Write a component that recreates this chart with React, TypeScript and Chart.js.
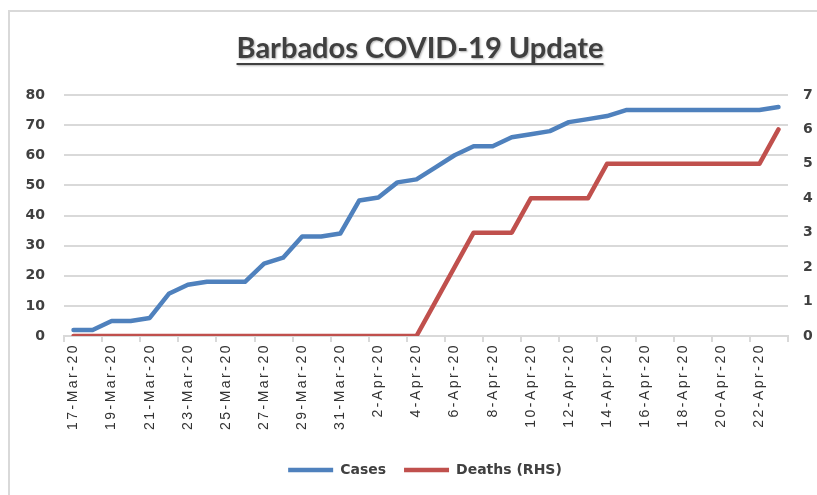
import React, { useEffect, useRef } from 'react';
import { Chart, registerables, CategoryScale } from 'chart.js';

Chart.register(...registerables);

class SpacedCategoryScale extends CategoryScale {
  static id = 'spacedCategory';
  static defaults = CategoryScale.defaults;
  drawLabels(chartArea: any) {
    const ctx = this.ctx as any;
    ctx.save();
    ctx.letterSpacing = '2.5px';
    super.drawLabels(chartArea);
    ctx.restore();
  }
}
Chart.register(SpacedCategoryScale as any);

const TITLE = 'Barbados COVID-19 Update';

const dates = [
  '17-Mar-20', '18-Mar-20', '19-Mar-20', '20-Mar-20', '21-Mar-20', '22-Mar-20', '23-Mar-20',
  '24-Mar-20', '25-Mar-20', '26-Mar-20', '27-Mar-20', '28-Mar-20', '29-Mar-20', '30-Mar-20',
  '31-Mar-20', '1-Apr-20', '2-Apr-20', '3-Apr-20', '4-Apr-20', '5-Apr-20', '6-Apr-20',
  '7-Apr-20', '8-Apr-20', '9-Apr-20', '10-Apr-20', '11-Apr-20', '12-Apr-20', '13-Apr-20',
  '14-Apr-20', '15-Apr-20', '16-Apr-20', '17-Apr-20', '18-Apr-20', '19-Apr-20', '20-Apr-20',
  '21-Apr-20', '22-Apr-20', '23-Apr-20',
];

const cases = [
  2, 2, 5, 5, 6, 14, 17, 18, 18, 18, 24, 26, 33, 33, 34, 45, 46, 51, 52,
  56, 60, 63, 63, 66, 67, 68, 71, 72, 73, 75, 75, 75, 75, 75, 75, 75, 75, 76,
];

const deaths = [
  0, 0, 0, 0, 0, 0, 0, 0, 0, 0, 0, 0, 0, 0, 0, 0, 0, 0, 0,
  1, 2, 3, 3, 3, 4, 4, 4, 4, 5, 5, 5, 5, 5, 5, 5, 5, 5, 6,
];

const leftTicks = { min: 0, max: 80, step: 10 };
const rightTicks = { min: 0, max: 7, step: 1 };

const GRID = '#d9d9d9';
const TEXT = '#404040';

const titlePlugin = {
  id: 'underlinedTitle',
  afterDraw(chart: any) {
    const ctx = chart.ctx;
    ctx.save();
    ctx.font = 'bold 29px Lato';
    ctx.fillStyle = TEXT;
    ctx.textAlign = 'center';
    ctx.textBaseline = 'alphabetic';
    ctx.shadowColor = 'rgba(0,0,0,0.3)';
    ctx.shadowOffsetX = 1;
    ctx.shadowOffsetY = 1;
    ctx.shadowBlur = 2;
    const cx = 410;
    const by = 46;
    ctx.fillText(TITLE, cx, by);
    const w = ctx.measureText(TITLE).width;
    ctx.fillRect(cx - w / 2, by + 5, w, 2);
    ctx.restore();
  },
};

export default function App() {
  const ref = useRef<HTMLCanvasElement>(null);

  useEffect(() => {
    if (!ref.current) return;
    const chart = new Chart(ref.current, {
      type: 'line',
      data: {
        labels: dates,
        datasets: [
          {
            label: 'Cases',
            data: cases,
            borderColor: '#4f81bd',
            backgroundColor: '#4f81bd',
            borderWidth: 4.5,
            borderCapStyle: 'round',
            borderJoinStyle: 'round',
            pointRadius: 0,
            tension: 0,
            yAxisID: 'y',
          },
          {
            label: 'Deaths (RHS)',
            data: deaths,
            borderColor: '#c0504d',
            backgroundColor: '#c0504d',
            borderWidth: 4.5,
            borderCapStyle: 'round',
            borderJoinStyle: 'round',
            pointRadius: 0,
            tension: 0,
            yAxisID: 'y1',
          },
        ],
      },
      options: {
        responsive: false,
        devicePixelRatio: 1,
        animation: false,
        layout: { padding: { top: 83, bottom: 8, left: 0, right: 0 } },
        plugins: {
          title: { display: false },
          tooltip: { enabled: false },
          legend: {
            position: 'bottom',
            labels: {
              usePointStyle: true,
              pointStyle: 'line',
              pointStyleWidth: 45,
              boxWidth: 45,
              color: TEXT,
              padding: 18,
              font: { family: 'DejaVu Sans', weight: 'bold', size: 14 },
            },
          },
        },
        scales: {
          x: {
            type: 'spacedCategory' as any,
            offset: true,
            afterFit: (s: any) => { s.height = 109; },
            grid: {
              offset: true,
              drawOnChartArea: false,
              drawTicks: true,
              tickLength: 6,
              lineWidth: 2,
              color: (c: any) => (c.index === undefined || c.index % 2 === 0 ? GRID : 'rgba(0,0,0,0)'),
            },
            border: { display: true, color: GRID, width: 2 },
            ticks: {
              autoSkip: false,
              maxRotation: 90,
              minRotation: 90,
              padding: 1,
              color: '#333333',
              font: { family: 'Liberation Sans', size: 14 },
              callback: (_v: any, i: number) => (i % 2 === 0 ? dates[i] : ''),
            },
          },
          y: {
            position: 'left',
            min: leftTicks.min,
            max: leftTicks.max,
            afterFit: (s: any) => { s.width = 54; },
            grid: { color: GRID, lineWidth: 2, drawTicks: false },
            border: { display: false },
            ticks: {
              stepSize: leftTicks.step,
              padding: 19,
              color: TEXT,
              font: { family: 'DejaVu Sans', weight: 'bold', size: 14 },
            },
          },
          y1: {
            position: 'right',
            min: rightTicks.min,
            max: rightTicks.max,
            afterFit: (s: any) => { s.width = 52; },
            grid: { drawOnChartArea: false, drawTicks: false },
            border: { display: false },
            ticks: {
              stepSize: rightTicks.step,
              padding: 15,
              color: TEXT,
              font: { family: 'DejaVu Sans', weight: 'bold', size: 14 },
            },
          },
        },
      },
      plugins: [titlePlugin],
    });
    return () => chart.destroy();
  }, []);

  return (
    <div style={{ position: 'fixed', left: 0, top: 0, width: 817, height: 495, overflow: 'hidden', background: '#fff' }}>
      <div
        style={{
          position: 'absolute',
          left: 8,
          top: 10,
          width: 840,
          height: 500,
          borderTop: `2px solid ${GRID}`,
          borderLeft: `2px solid ${GRID}`,
          background: '#fff',
        }}
      >
        <canvas ref={ref} width={830} height={483} style={{ display: 'block' }} />
      </div>
    </div>
  );
}
